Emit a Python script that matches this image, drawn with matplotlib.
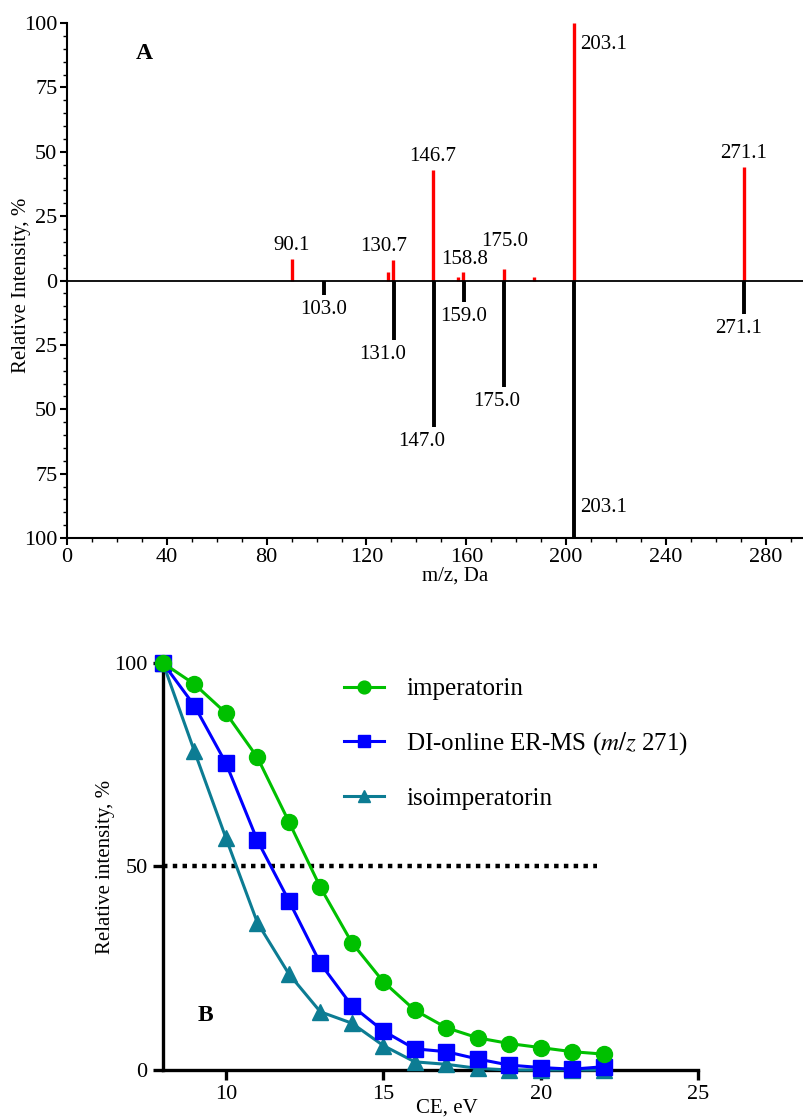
import numpy as np
import matplotlib.pyplot as plt
from matplotlib.ticker import MultipleLocator, FuncFormatter

plt.rcParams['font.family'] = ['Liberation Serif', 'DejaVu Serif']
plt.rcParams['mathtext.fontset'] = 'stix'

# --- Panel A: mirror spectrum ---
top_mz = [90.1, 128.5, 130.7, 146.7, 156.5, 158.8, 175.0, 187.0, 203.1, 271.1]
top_int = [8.5, 3.5, 8.0, 43.0, 1.5, 3.5, 4.3, 1.5, 100.0, 44.0]
top_labels = ["90.1", "", "130.7", "146.7", "", "158.8", "175.0", "", "203.1", "271.1"]

bot_mz = [103.0, 131.0, 147.0, 159.0, 175.0, 203.1, 271.1]
bot_int = [5.5, 23.0, 57.0, 8.5, 41.5, 100.0, 13.0]
bot_labels = ["103.0", "131.0", "147.0", "159.0", "175.0", "203.1", "271.1"]

# label offsets in pixels (dx, dy)
top_offsets = {"130.7": (-10, 4), "158.8": (1, 3), "175.0": (1, 18), "203.1": (6, -12)}
bot_offsets = {"131.0": (-11, -5), "147.0": (-12, -5), "175.0": (-7, -5),
               "271.1": (-5, -5), "203.1": (6, 40)}

# --- Panel B: breakdown curves ---
ce = [8, 9, 10, 11, 12, 13, 14, 15, 16, 17, 18, 19, 20, 21, 22]
imperatorin = [100, 94.8, 87.7, 76.8, 61.0, 44.9, 31.3, 21.7, 14.7, 10.4, 7.9, 6.5, 5.5, 4.5, 3.9]
di_online = [100, 89.5, 75.4, 56.4, 41.6, 26.2, 15.8, 9.6, 5.2, 4.5, 2.7, 1.2, 0.6, 0.2, 0.8]
isoimperatorin = [100, 78.3, 57.0, 36.2, 23.6, 14.3, 11.5, 6.0, 2.0, 1.4, 0.4, 0.0, 0.0, 0.0, 0.0]

fig = plt.figure(figsize=(8.04, 11.19), dpi=100)

# ---------------- A ----------------
ax = fig.add_axes([0.0833, 0.5192, 0.9167, 0.4602])
ax.vlines(top_mz, 0, top_int, color="#ff0000", linewidth=2.4)
ax.vlines(bot_mz, 0, [-v for v in bot_int], color="black", linewidth=2.8)
ax.axhline(0, color="black", linewidth=1.3)

for mz, h, lab in zip(top_mz, top_int, top_labels):
    if not lab:
        continue
    dx, dy = top_offsets.get(lab, (0, 4))
    ha = "left" if lab == "203.1" else "center"
    va = "top" if lab == "203.1" else "bottom"
    ax.annotate(lab, (mz, h), xytext=(dx, dy), textcoords="offset pixels",
                ha=ha, va=va, fontsize=15)

for mz, h, lab in zip(bot_mz, bot_int, bot_labels):
    dx, dy = bot_offsets.get(lab, (0, -5))
    ha = "left" if lab == "203.1" else "center"
    ax.annotate(lab, (mz, -h), xytext=(dx, dy), textcoords="offset pixels",
                ha=ha, va="top", fontsize=15)

ax.text(31, 88, "A", fontsize=17, fontweight="bold", ha="center", va="center")

ax.set_xlim(0, 295.3)
ax.set_ylim(-100, 100)
ax.spines["top"].set_visible(False)
ax.spines["right"].set_visible(False)
for s in ("left", "bottom"):
    ax.spines[s].set_linewidth(1.5)
ax.xaxis.set_major_locator(MultipleLocator(40))
ax.xaxis.set_minor_locator(MultipleLocator(10))
ax.yaxis.set_major_locator(MultipleLocator(25))
ax.yaxis.set_minor_locator(MultipleLocator(5))
ax.yaxis.set_major_formatter(FuncFormatter(lambda v, p: f"{abs(v):.0f}"))
ax.tick_params(which="major", direction="out", length=5, width=1.5, labelsize=16, pad=2)
ax.tick_params(which="minor", direction="out", length=3, width=1.0)
ax.set_xlabel("m/z, Da", fontsize=15)
ax.set_ylabel("Relative Intensity, %", fontsize=15)
ax.xaxis.set_label_coords(0.526, -0.056)
ax.yaxis.set_label_coords(-0.049, 0.49)

# ---------------- B ----------------
bx = fig.add_axes([0.2027, 0.0438, 0.6655, 0.3637])
green = "#00c000"
blue = "#0000ff"
teal = "#0c7c93"
bx.plot(ce, imperatorin, color=green, lw=2.2, marker="o", ms=11.5,
        label="imperatorin", clip_on=False, zorder=5)
bx.plot(ce, di_online, color=blue, lw=2.2, marker="s", ms=11,
        label=r"DI-online ER-MS ($\mathit{m/z}$ 271)", clip_on=False, zorder=4)
bx.plot(ce, isoimperatorin, color=teal, lw=2.2, marker="^", ms=11.5,
        label="isoimperatorin", clip_on=False, zorder=3)
bx.plot([8, 21.8], [50, 50], color="black", lw=3.2, linestyle=(0, (1, 1.2)), zorder=2)

bx.text(9.35, 13.5, "B", fontsize=17, fontweight="bold", ha="center", va="center")

bx.set_xlim(8, 25)
bx.set_ylim(0, 100)
bx.spines["top"].set_visible(False)
bx.spines["right"].set_visible(False)
for s in ("left", "bottom"):
    bx.spines[s].set_linewidth(2.4)
bx.set_xticks([10, 15, 20, 25])
bx.set_yticks([0, 50, 100])
bx.tick_params(direction="out", length=7, width=2.4, labelsize=16, pad=4)
bx.set_xlabel("CE, eV", fontsize=15)
bx.set_ylabel("Relative intensity, %", fontsize=15)
bx.xaxis.set_label_coords(0.53, -0.07)
bx.yaxis.set_label_coords(-0.09, 0.5)

leg = bx.legend(loc="upper left", bbox_to_anchor=(334 / 804, 1 - 668 / 1119),
                bbox_transform=fig.transFigure, frameon=False, fontsize=18,
                handlelength=1.6, labelspacing=1.2, handletextpad=0.9,
                borderaxespad=0, markerscale=0.8)

fig.savefig("out.png", dpi=100)
